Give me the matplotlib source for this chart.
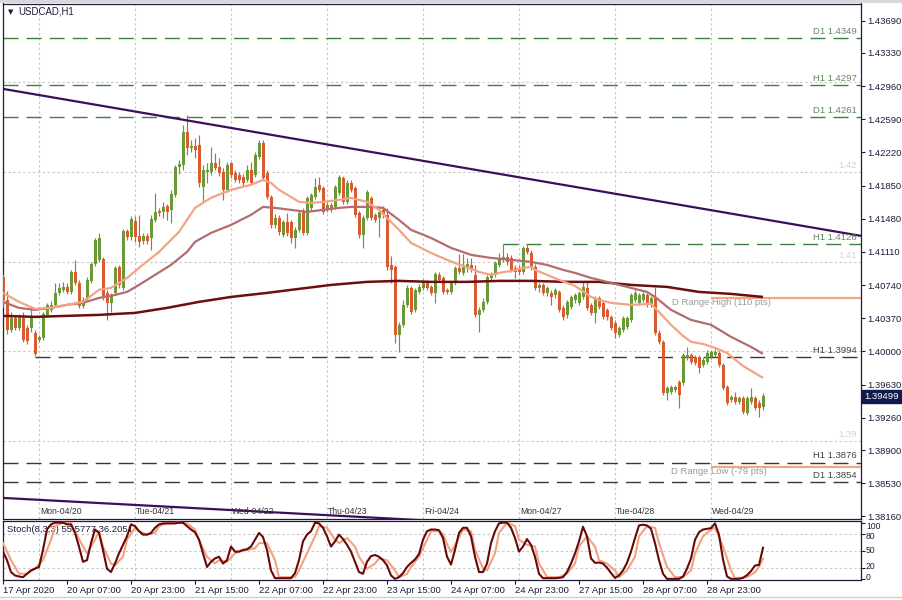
import matplotlib
matplotlib.use("Agg")
import matplotlib.pyplot as plt
import matplotlib.transforms as mtransforms
from matplotlib.lines import Line2D
from matplotlib.patches import Rectangle
import numpy as np

plt.rcParams['font.family'] = ['Liberation Sans', 'DejaVu Sans']

# ---------------- data ----------------
opens = [1.40831,1.40575,1.40241,1.40374,1.40263,1.40374,1.40263,1.40263,1.40207,1.40129,
         1.40152,1.40408,1.40464,1.40520,1.40653,1.40687,1.40720,1.40664,1.40887,1.40765,
         1.40508,1.40597,1.40787,1.40976,1.41021,1.41032,1.40653,1.40542,1.40653,1.40943,
         1.40709,1.41344,1.41278,1.41456,1.41289,1.41233,1.41289,1.41266,1.41467,1.41567,
         1.41556,1.41623,1.41579,1.41746,1.42058,1.42080,1.42448,1.42270,1.42292,1.42303,
         1.41835,1.42002,1.42002,1.42102,1.42058,1.42002,1.41802,1.42102,1.41991,1.41969,
         1.41946,1.41913,1.42025,1.41969,1.42169,1.42325,1.41991,1.41723,1.41411,1.41489,
         1.41300,1.41445,1.41445,1.41266,1.41356,1.41556,1.41322,1.41601,1.41723,1.41858,
         1.41824,1.41579,1.41635,1.41612,1.41768,1.41935,1.41668,1.41880,1.41824,1.41545,
         1.41300,1.41489,1.41713,1.41523,1.41489,1.41579,1.41523,1.40965,1.40943,1.40185,
         1.40297,1.40520,1.40709,1.40464,1.40664,1.40709,1.40776,1.40720,1.40653,1.40854,
         1.40820,1.40687,1.40664,1.40765,1.40932,1.40876,1.40932,1.40965,1.40854,1.40408,
         1.40464,1.40553,1.40820,1.40854,1.40965,1.41021,1.41054,1.41043,1.40932,1.40932,
         1.40887,1.41155,1.41099,1.40943,1.40709,1.40742,1.40653,1.40653,1.40631,1.40664,
         1.40486,1.40408,1.40497,1.40575,1.40542,1.40608,1.40709,1.40520,1.40430,1.40597,
         1.40542,1.40464,1.40386,1.40319,1.40185,1.40241,1.40274,1.40352,1.40575,1.40542,
         1.40575,1.40631,1.40520,1.40597,1.40207,1.40107,1.39538,1.39549,1.39571,1.39661,
         1.39650,1.39928,1.39962,1.39939,1.39939,1.39850,1.39883,1.39939,1.39962,1.39984,
         1.39850,1.39605,1.39460,1.39493,1.39438,1.39482,1.39315,1.39438,1.39482,1.39426,
         1.39382]
highs = [1.40865,1.40675,1.40441,1.40408,1.40419,1.40441,1.40297,1.40497,1.40241,1.40185,
         1.40441,1.40542,1.40564,1.40765,1.40765,1.40776,1.40765,1.40910,1.41021,1.40798,
         1.40608,1.40831,1.40999,1.41266,1.41322,1.41054,1.40687,1.40653,1.40954,1.40965,
         1.41367,1.41367,1.41512,1.41512,1.41523,1.41322,1.41322,1.41523,1.41768,1.41601,
         1.41668,1.41646,1.41802,1.42080,1.42136,1.42526,1.42638,1.42359,1.42381,1.42414,
         1.42080,1.42102,1.42281,1.42214,1.42158,1.42047,1.42113,1.42113,1.42025,1.42002,
         1.41980,1.42080,1.42113,1.42225,1.42359,1.42359,1.42025,1.41746,1.41534,1.41523,
         1.41467,1.41545,1.41467,1.41389,1.41579,1.41601,1.41735,1.41768,1.41935,1.41946,
         1.41846,1.41668,1.41657,1.41858,1.41969,1.41958,1.41913,1.41913,1.41846,1.41567,
         1.41523,1.41802,1.41735,1.41545,1.41579,1.41623,1.41601,1.41066,1.40965,1.40330,
         1.40575,1.40742,1.40731,1.40709,1.40754,1.40809,1.40798,1.40742,1.40887,1.40887,
         1.40843,1.40709,1.40787,1.40954,1.41088,1.41088,1.41043,1.41043,1.40965,1.40497,
         1.40597,1.40854,1.40887,1.41010,1.41099,1.41199,1.41099,1.41077,1.40965,1.40965,
         1.41177,1.41199,1.41133,1.40976,1.40765,1.40765,1.40731,1.40687,1.40709,1.40687,
         1.40520,1.40575,1.40631,1.40653,1.40675,1.40776,1.40776,1.40542,1.40620,1.40620,
         1.40564,1.40486,1.40408,1.40352,1.40286,1.40397,1.40397,1.40653,1.40687,1.40653,
         1.40664,1.40653,1.40620,1.40720,1.40241,1.40129,1.39616,1.39627,1.39627,1.39683,
         1.39984,1.40051,1.39984,1.39962,1.39962,1.39939,1.40018,1.40018,1.40029,1.40006,
         1.39872,1.39627,1.39516,1.39549,1.39504,1.39504,1.39504,1.39594,1.39504,1.39460,
         1.39538]
lows = [1.40497,1.40196,1.40218,1.40241,1.40241,1.40107,1.40084,1.40218,1.39951,1.40107,
        1.40129,1.40386,1.40441,1.40497,1.40631,1.40664,1.40642,1.40642,1.40742,1.40486,
        1.40486,1.40575,1.40765,1.40954,1.40999,1.40575,1.40352,1.40441,1.40631,1.40709,
        1.40687,1.41244,1.41244,1.41222,1.41166,1.41199,1.41199,1.41133,1.41445,1.41512,
        1.41489,1.41467,1.41433,1.41723,1.41980,1.42025,1.42191,1.42225,1.42158,1.41835,
        1.41668,1.41880,1.41969,1.42025,1.41958,1.41690,1.41779,1.41935,1.41891,1.41880,
        1.41846,1.41891,1.41858,1.41946,1.42147,1.41913,1.41701,1.41379,1.41379,1.41300,
        1.41278,1.41289,1.41211,1.41155,1.41333,1.41300,1.41300,1.41579,1.41701,1.41779,
        1.41534,1.41556,1.41556,1.41590,1.41746,1.41646,1.41646,1.41779,1.41501,1.41266,
        1.41155,1.41467,1.41467,1.41445,1.41278,1.41489,1.40910,1.40765,1.40096,1.39995,
        1.40274,1.40497,1.40419,1.40441,1.40642,1.40687,1.40687,1.40631,1.40542,1.40776,
        1.40642,1.40642,1.40642,1.40742,1.40865,1.40854,1.40887,1.40887,1.40386,1.40218,
        1.40441,1.40530,1.40798,1.40831,1.40943,1.40999,1.40965,1.40887,1.40820,1.40854,
        1.40865,1.41088,1.40910,1.40687,1.40664,1.40631,1.40620,1.40520,1.40597,1.40441,
        1.40352,1.40374,1.40475,1.40542,1.40520,1.40586,1.40464,1.40408,1.40319,1.40475,
        1.40363,1.40352,1.40241,1.40152,1.40163,1.40218,1.40252,1.40330,1.40553,1.40520,
        1.40553,1.40497,1.40497,1.40185,1.40084,1.39516,1.39460,1.39527,1.39549,1.39371,
        1.39627,1.39906,1.39861,1.39850,1.39761,1.39827,1.39861,1.39917,1.39939,1.39827,
        1.39571,1.39404,1.39438,1.39415,1.39415,1.39304,1.39292,1.39415,1.39348,1.39270,
        1.39348]
closes = [1.40575,1.40241,1.40374,1.40263,1.40374,1.40129,1.40118,1.40386,1.39973,1.40163,
          1.40419,1.40520,1.40520,1.40653,1.40709,1.40720,1.40664,1.40887,1.40765,1.40508,
          1.40575,1.40798,1.40976,1.41244,1.41266,1.40597,1.40542,1.40631,1.40932,1.40742,
          1.41344,1.41278,1.41478,1.41278,1.41222,1.41289,1.41233,1.41478,1.41556,1.41545,
          1.41612,1.41556,1.41757,1.42058,1.42091,1.42448,1.42270,1.42292,1.42248,1.41880,
          1.42025,1.42025,1.42102,1.42047,1.41991,1.41802,1.42080,1.41969,1.41913,1.41913,
          1.41880,1.42025,1.41880,1.42191,1.42325,1.41935,1.41723,1.41411,1.41489,1.41333,
          1.41445,1.41322,1.41266,1.41356,1.41545,1.41322,1.41713,1.41746,1.41835,1.41802,
          1.41556,1.41635,1.41601,1.41835,1.41946,1.41668,1.41880,1.41802,1.41523,1.41300,
          1.41489,1.41779,1.41489,1.41467,1.41556,1.41523,1.40943,1.40910,1.40185,1.40297,
          1.40520,1.40709,1.40441,1.40687,1.40720,1.40776,1.40709,1.40653,1.40865,1.40798,
          1.40664,1.40664,1.40765,1.40932,1.40887,1.40965,1.40976,1.40910,1.40408,1.40464,
          1.40553,1.40831,1.40854,1.40987,1.41032,1.41054,1.40999,1.40910,1.40887,1.40887,
          1.41155,1.41110,1.40932,1.40709,1.40742,1.40653,1.40709,1.40608,1.40687,1.40464,
          1.40386,1.40553,1.40608,1.40631,1.40653,1.40720,1.40486,1.40430,1.40597,1.40497,
          1.40386,1.40386,1.40263,1.40207,1.40263,1.40374,1.40374,1.40631,1.40653,1.40631,
          1.40642,1.40520,1.40597,1.40207,1.40107,1.39538,1.39594,1.39605,1.39605,1.39516,
          1.39962,1.39962,1.39883,1.39872,1.39817,1.39906,1.39984,1.39995,1.39995,1.39850,
          1.39594,1.39426,1.39493,1.39438,1.39482,1.39326,1.39482,1.39493,1.39371,1.39371,
          1.39499]

# moving averages (bar index, value)
ma_fast_idx = [0,4,8,12,16,20,24,27,31,34,39,44,48,52,57,62,65,67,69,72,74,77,80,84,87,91,94,97,99,
               102,107,111,115,119,122,124,127,130,132,133,136,139,143,147,149,152,157,162,164,167,
               170,172,175,178,181,185,190]
ma_fast_val = [1.40653,1.40553,1.40475,1.40486,1.40520,1.40553,1.40687,1.40709,1.40820,1.40932,1.41110,
               1.41333,1.41601,1.41713,1.41802,1.41858,1.41913,1.41880,1.41802,1.41723,1.41668,1.41657,
               1.41668,1.41690,1.41713,1.41668,1.41579,1.41445,1.41356,1.41211,1.41099,1.41021,1.40954,
               1.40887,1.40854,1.40876,1.40898,1.40932,1.40943,1.40910,1.40854,1.40798,1.40731,1.40608,
               1.40575,1.40542,1.40520,1.40531,1.40441,1.40297,1.40174,1.40107,1.40084,1.40040,1.39984,
               1.39839,1.39705]
ma_mid_idx = [0,4,8,12,16,20,24,28,31,34,38,42,46,48,52,57,62,65,68,72,76,80,84,87,92,95,99,102,107,
              112,117,122,127,132,136,140,143,147,152,157,161,163,167,172,177,182,187,190]
ma_mid_val = [1.40553,1.40486,1.40464,1.40486,1.40520,1.40542,1.40597,1.40631,1.40664,1.40742,1.40854,
              1.40965,1.41110,1.41222,1.41322,1.41411,1.41523,1.41612,1.41601,1.41579,1.41556,1.41579,
              1.41601,1.41612,1.41612,1.41601,1.41467,1.41356,1.41266,1.41155,1.41077,1.41043,1.41021,
              1.40999,1.40965,1.40910,1.40876,1.40820,1.40765,1.40709,1.40664,1.40608,1.40464,1.40352,
              1.40297,1.40163,1.40051,1.39973]
ma_slow_idx = [0,8,16,24,33,41,49,57,66,74,82,91,99,107,116,124,132,141,149,157,166,174,182,190]
ma_slow_val = [1.40397,1.40386,1.40397,1.40408,1.40430,1.40486,1.40553,1.40608,1.40653,1.40698,1.40742,
               1.40776,1.40787,1.40776,1.40776,1.40787,1.40787,1.40776,1.40776,1.40742,1.40720,1.40664,
               1.40642,1.40608]

# stochastic (8,3,3)
stoch_k = [48.8,33.8,12.8,6.8,5,3.8,9.8,15.8,18.8,21.8,51.8,87.8,96.8,99.8,100,99.8,96.8,96.8,81.8,57.8,
           30.8,33.8,63.8,87.8,81.8,51.8,18.8,12.8,27.8,45.8,60.8,75.8,96.8,93.8,84.8,78.8,78.8,81.8,90.8,96.8,
           98.6,98.6,98.6,98.6,99.8,99.8,93.8,87.8,83,69.8,45.8,21.8,30.8,36.8,39.8,27.8,33.8,57.8,48.8,48.8,
           51.8,53,57.8,69.8,81.8,74.6,51.8,15.8,2,2,2,2,2,11,33.8,66.8,78.8,84.8,99.8,98.6,
           90.8,75.8,57.8,66.8,78.8,71,60.8,48.8,30.8,12.8,9.8,30.8,41,42.8,39.8,33.8,24.8,6.8,0.8,3.8,
           11,21.8,29,35,44.6,69.8,84.8,87.8,87.8,86.6,72.8,40,26,51.8,81.8,90.8,90.8,75.8,39.8,12.8,
           12.8,27.8,63.8,84.8,98.6,100,99.8,90.8,72.8,48.8,57.8,71,60.8,39.8,9.8,2,2,2,2,2.6,
           3.8,12.8,27.8,45.8,66.8,92.6,75.8,36.8,29,29.6,27.8,20.6,11,2.6,6.8,15.8,29,48.8,72.8,95,
           96.2,95,89,63.8,33.8,9.8,0.8,0.8,0.8,0.8,5,18.8,36.8,69.8,83,87.8,89,90.2,98.6,78.8,
           35,5,0.8,0.8,0.8,2.6,7.4,14.6,24.2,25.4,55.6]
stoch_d_idx = [0,2,4,6,8,10,12,13,15,17,18,20,21,23,24,25,27,28,30,31,33,34,36,38,39,41,44,46,48,49,
               51,53,54,56,58,59,61,63,64,66,68,69,73,74,76,78,79,81,83,84,86,88,89,91,93,94,96,98,99,
               101,102,104,106,107,109,110,111,112,113,115,117,118,120,121,123,124,126,128,129,131,133,
               134,136,139,141,143,144,146,148,149,151,153,154,156,158,159,161,163,164,166,168,170,172,
               173,175,177,178,180,182,183,186,188,189,190]
stoch_d_val = [63.8,33.8,9.8,9.8,18.8,33.8,69.8,93.8,99.8,98.6,84.8,57.8,45.8,69.8,84.8,57.8,27.8,24.8,
               39.8,69.8,90.8,84.8,78.8,81.8,93.8,98.6,99.8,98.6,87.8,69.8,39.8,27.8,33.8,30.8,45.8,48.8,
               51.8,54.8,63.8,63.8,33.8,3.8,3.8,15.8,45.8,75.8,93.8,90.8,69.8,63.8,72.8,57.8,39.8,18.8,
               27.8,36.8,33.8,15.8,3.8,9.8,21.8,39.8,69.8,84.8,84.8,80,62,48,60,87.8,84.8,51.8,18.8,15.8,
               45.8,81.8,99.8,93.8,69.8,60.8,57.8,27.8,3.8,3.8,9.8,27.8,57.8,75.8,57.8,33.8,27.8,15.8,3.8,
               15.8,39.8,75.8,93.8,90.8,63.8,21.8,3.8,3.8,15.8,45.8,75.8,87.8,90.8,57.8,15.8,2,3.8,12.8,
               21.8,36.2]

# levels
level_values = [1.4349, 1.4297, 1.4261, 1.4120, 1.3994, 1.3876, 1.3854]
level_labels = ["D1 1.4349", "H1 1.4297", "D1 1.4261", "H1 1.4126", "H1 1.3994", "H1 1.3876", "D1 1.3854"]
level_start = [None, None, None, 125, 8, None, None]
level_kind = ["g", "g", "g", "g", "d", "d", "d"]
round_levels = [1.43, 1.42, 1.41, 1.40, 1.39]
round_labels = {1.42: "1.42", 1.41: "1.41", 1.39: "1.39"}
range_high, range_low = 1.40601, 1.38716
range_start = 177
range_high_text = "D Range High (110 pts)"
range_low_text = "D Range Low (-79 pts)"
trend_upper = [(0, 1.42928), (214.5, 1.41289)]
trend_lower = [(0, 1.38367), (110, 1.38106)]
price_ticks = [1.43690,1.43330,1.42960,1.42590,1.42220,1.41850,1.41480,1.41110,1.40740,1.40370,
               1.40000,1.39630,1.39260,1.38900,1.38530,1.38160]
last_price = 1.39499
stoch_levels = [0, 20, 50, 80, 100]
day_starts = [9, 33, 57, 81, 105, 129, 153, 177]
day_labels = ["Mon-04/20", "Tue-04/21", "Wed-04/22", "Thu-04/23", "Fri-04/24", "Mon-04/27", "Tue-04/28", "Wed-04/29"]
time_ticks = [0, 16, 32, 48, 64, 80, 96, 112, 128, 144, 160, 176]
time_labels = ["17 Apr 2020", "20 Apr 07:00", "20 Apr 23:00", "21 Apr 15:00", "22 Apr 07:00", "22 Apr 23:00",
               "23 Apr 15:00", "24 Apr 07:00", "24 Apr 23:00", "27 Apr 15:00", "28 Apr 07:00", "28 Apr 23:00"]

# ---------------- styling ----------------
GREEN = '#6a9a38'
RED = '#dc5a30'
MA_FAST = '#f2a484'
MA_MID = '#b46c6c'
MA_SLOW = '#6a0e0e'
PURPLE = '#3c0f5c'
LVL_G = '#3f7f3f'
LVL_D = '#2e3c3c'
TXT_G = '#5f8a5f'
TXT_D = '#3a4646'
GRID = '#c8c8c8'
AXC = '#1c1c3c'
FS = 6.8

W, H = 903, 600
fig = plt.figure(figsize=(W / 100, H / 100), dpi=100)

def fx(px):
    return px / W

def fy(py):
    return 1 - py / H

L, R = 2.7, 861.0
ax = fig.add_axes([fx(L), fy(519), fx(R) - fx(L), fy(3.5) - fy(519)])
axs = fig.add_axes([fx(L), fy(580), fx(R) - fx(L), fy(521) - fy(580)])

xmin, xmax = (L - 3) / 4.0, (R - 3) / 4.0
for a in (ax, axs):
    a.set_xlim(xmin, xmax)
    for s in a.spines.values():
        s.set_color(AXC)
        s.set_linewidth(0.9)

ax.set_ylim(1.38132, 1.43880)
axs.set_ylim(-1.2, 102.8)

dash = (0, (10.8, 5.8))
dot = (0, (2.2, 2.2))

# grids
for d in day_starts:
    ax.axvline(d, color=GRID, lw=0.8, ls=dot, zorder=0)
    axs.axvline(d, color=GRID, lw=0.8, ls=dot, zorder=0)
for r in round_levels:
    ax.axhline(r, color=GRID, lw=0.8, ls=dot, zorder=0)
for v in stoch_levels[1:4]:
    axs.axhline(v, color=GRID, lw=0.8, ls=dot, zorder=0)

# levels
for v, t, s, k in zip(level_values, level_labels, level_start, level_kind):
    c = LVL_G if k == "g" else LVL_D
    x0 = xmin if s is None else s
    ax.hlines(v, x0, xmax, colors=c, lw=1.0, linestyles=[dash], zorder=1)
    ax.annotate(t, xy=(1, v), xycoords=('axes fraction', 'data'), xytext=(-3, 1.6),
                textcoords='offset points', ha='right', va='bottom', fontsize=FS,
                color=TXT_G if k == "g" else TXT_D, zorder=6)
for r, t in round_labels.items():
    ax.annotate(t, xy=(1, r), xycoords=('axes fraction', 'data'), xytext=(-3, 1.6),
                textcoords='offset points', ha='right', va='bottom', fontsize=FS,
                color='#d2d2d2', zorder=1)

# D range
ax.hlines([range_high, range_low], range_start, xmax, colors=MA_FAST, lw=1.6, zorder=2)
ax.text(192, range_high, range_high_text, ha='right', va='top', fontsize=FS, color='#9a9a9a', zorder=2)
ax.text(191, range_low, range_low_text, ha='right', va='top', fontsize=FS, color='#9a9a9a', zorder=2)

# candles
o = np.array(opens); hgh = np.array(highs); lw_ = np.array(lows); c = np.array(closes)
x = np.arange(len(c))
cols = np.where(c >= o, GREEN, RED)
ax.vlines(x, lw_, hgh, colors=cols, lw=0.85, zorder=3)
body_b = np.minimum(o, c)
body_h = np.maximum(np.abs(c - o), 0.00005)
ax.bar(x, body_h, bottom=body_b, width=0.75, color=cols, linewidth=0, zorder=3)

# moving averages
ax.plot(ma_slow_idx, ma_slow_val, color=MA_SLOW, lw=1.8, zorder=4, solid_capstyle='butt')
ax.plot(ma_mid_idx, ma_mid_val, color=MA_MID, lw=1.6, zorder=4, solid_capstyle='butt')
ax.plot(ma_fast_idx, ma_fast_val, color=MA_FAST, lw=1.6, zorder=4, solid_capstyle='butt')

# trend lines
for tl in (trend_upper, trend_lower):
    ax.plot([p[0] for p in tl], [p[1] for p in tl], color=PURPLE, lw=1.6, zorder=5)

# day labels
trans = mtransforms.blended_transform_factory(ax.transData, ax.transAxes)
for d, t in zip(day_starts, day_labels):
    ax.text(d + 0.2, 0.0136, t, transform=trans, fontsize=6.2, color='#333333', ha='left', va='center', zorder=6)

# price axis
ax.yaxis.tick_right()
ax.set_yticks(price_ticks)
ax.set_yticklabels(["%.5f" % p for p in price_ticks])
ax.tick_params(axis='y', direction='out', length=3, width=0.8, colors=AXC, labelsize=FS, pad=1.5)
ax.set_xticks([])

ax.annotate("%.5f" % last_price, xy=(1, last_price), xycoords=('axes fraction', 'data'), xytext=(2.2, 0),
            textcoords='offset points', ha='left', va='center', fontsize=FS, color='white',
            bbox=dict(boxstyle='square,pad=0.25', fc='#101a4e', ec='#101a4e'), zorder=10,
            annotation_clip=False)

# title
fig.text(fx(8), fy(12), "\u25bc", fontsize=5, color=AXC, ha='left', va='center', family='DejaVu Sans')
fig.text(fx(18), fy(12), "USDCAD,H1", fontsize=6.9, color=AXC, ha='left', va='center')

# stochastic
axs.plot(np.arange(len(stoch_k)), stoch_k, color='#6a0808', lw=1.5, zorder=4)
axs.plot(stoch_d_idx, stoch_d_val, color='#f0a282', lw=1.5, zorder=3)
axs.text(0.005, 87, "Stoch(8,3,3) 55.5777 36.2051",
         transform=mtransforms.blended_transform_factory(axs.transAxes, axs.transData),
         fontsize=FS, color=AXC, ha='left', va='center', zorder=2)
axs.set_yticks(stoch_levels)
axs.set_yticklabels([])
axs.yaxis.tick_right()
axs.tick_params(axis='y', direction='out', length=3, width=0.8, colors=AXC)
tr2 = mtransforms.blended_transform_factory(axs.transAxes, axs.transData)
# label placement (nudged inside the short panel so they do not collide)
for v, pos in zip(stoch_levels, (3.0, 22.0, 50, 76, 93)):
    axs.text(1.0 + 5 / 858, pos, str(v), transform=tr2, fontsize=6.2, color=AXC, ha='left', va='center')
axs.set_xticks(time_ticks)
axs.set_xticklabels(time_labels)
axs.tick_params(axis='x', direction='out', length=3, width=0.8, colors=AXC, labelsize=FS, pad=1.5)
for lab in axs.get_xticklabels():
    lab.set_ha('left')

# window frame bits
fig.add_artist(Rectangle((0, fy(2.5)), 1, 2.5 / H, transform=fig.transFigure, color='#d8d8d8', lw=0))
fig.add_artist(Line2D([0, 1], [fy(597), fy(597)], transform=fig.transFigure, color='#cfcfcf', lw=1))

fig.savefig("out.png", dpi=100)
